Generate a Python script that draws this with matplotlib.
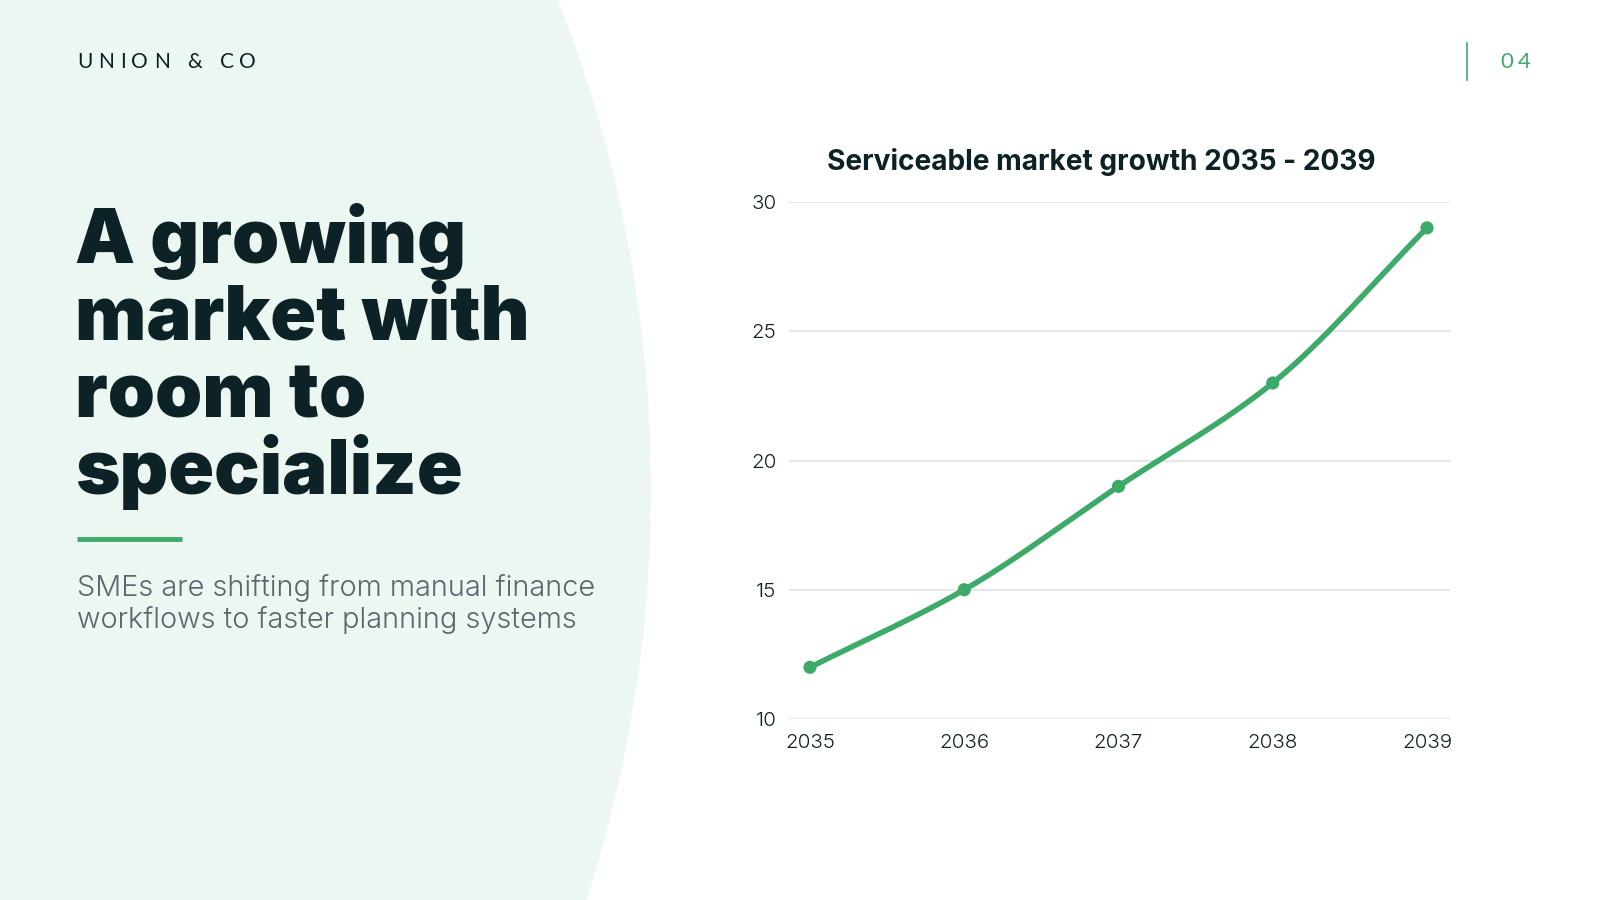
import matplotlib
matplotlib.use("Agg")
import matplotlib.pyplot as plt
import numpy as np
from matplotlib.patches import Circle

years = ["2035", "2036", "2037", "2038", "2039"]
values = [12, 15, 19, 23, 29]
y_ticks = [10, 15, 20, 25, 30]

brand = "UNION & CO"
page_no = "04"
headline = ["A growing", "market with", "room to", "specialize"]
subtitle = ["SMEs are shifting from manual finance", "workflows to faster planning systems"]
chart_title = "Serviceable market growth 2035 - 2039"

GREEN = "#3DAA6A"
DARK = "#0D2226"
GRAY = "#5B6670"
PANEL = "#EDF7F1"
W, H = 1600, 900

fig = plt.figure(figsize=(16, 9), dpi=100)
fig.patch.set_facecolor("white")

bg = fig.add_axes([0, 0, 1, 1])
bg.set_xlim(0, W)
bg.set_ylim(H, 0)
bg.axis("off")
bg.add_patch(Circle((-686, 490), 1337, facecolor=PANEL, edgecolor="none"))

def spaced(ax, x, y, text, spacing, **kw):
    fig.canvas.draw()
    r = fig.canvas.get_renderer()
    cx = x
    for ch in text:
        t = ax.text(cx, y, ch, ha="left", va="center", **kw)
        if ch == " ":
            w = kw.get("fontsize", 12) * 100 / 72 * 0.28
        else:
            bb = t.get_window_extent(renderer=r)
            w = bb.width
        cx += w + spacing

spaced(bg, 77, 62, brand, 5.8, fontsize=15, color=DARK, family="Lato")

bg.plot([1467, 1467], [43, 80], color=GREEN, lw=1.2)
spaced(bg, 1500, 62, page_no, 5, fontsize=16, color=GREEN, family="Lato")

for i, line in enumerate(headline):
    bg.text(75, 263 + i * 77, line, fontsize=54.5, fontweight=900, family="Inter",
            color=DARK, ha="left", va="baseline")

bg.plot([77, 182], [539, 539], color=GREEN, lw=3.5, solid_capstyle="butt")

for i, line in enumerate(subtitle):
    bg.text(77, 596 + i * 31.5, line, fontsize=20.8, fontweight=300, family="Inter",
            color=GRAY, ha="left", va="baseline")

ax = fig.add_axes([789 / W, 1 - 719 / H, (1450 - 789) / W, (719 - 202) / H])
ax.set_facecolor("none")
x = np.arange(len(values))
yv = np.array(values, dtype=float)

d = np.diff(yv)
m = np.zeros_like(yv)
m[0], m[-1] = d[0], d[-1]
for i in range(1, len(yv) - 1):
    m[i] = 0 if d[i - 1] * d[i] <= 0 else 2 / (1 / d[i - 1] + 1 / d[i])
xs, ys = [], []
for i in range(len(yv) - 1):
    t = np.linspace(0, 1, 40)
    h00 = 2 * t**3 - 3 * t**2 + 1
    h10 = t**3 - 2 * t**2 + t
    h01 = -2 * t**3 + 3 * t**2
    h11 = t**3 - t**2
    xs.append(x[i] + t)
    ys.append(h00 * yv[i] + h10 * m[i] + h01 * yv[i + 1] + h11 * m[i + 1])
ax.plot(np.concatenate(xs), np.concatenate(ys), color=GREEN, lw=4, solid_capstyle="round", zorder=3)
ax.scatter(x, yv, s=90, color=GREEN, zorder=4, edgecolors="none")

ax.set_xlim(-0.136, 4.149)
ax.set_ylim(10, 30)
ax.set_yticks(y_ticks)
ax.set_xticks(x)
ax.set_xticklabels(years)
for s in ax.spines.values():
    s.set_visible(False)
ax.grid(axis="y", color="#E2E4E4", lw=1.2)
ax.set_axisbelow(True)
ax.tick_params(length=0, labelsize=14.8, colors=DARK)
ax.tick_params(axis="y", pad=9)
ax.tick_params(axis="x", pad=11)
for lbl in ax.get_xticklabels() + ax.get_yticklabels():
    lbl.set_family("Inter")
    lbl.set_fontweight(300)
    lbl.set_color(DARK)

bg.text(1101, 162, chart_title, fontsize=20.2, fontweight="bold", family="Inter",
        color=DARK, ha="center", va="center")

fig.savefig("out.png", dpi=100, facecolor="white")
